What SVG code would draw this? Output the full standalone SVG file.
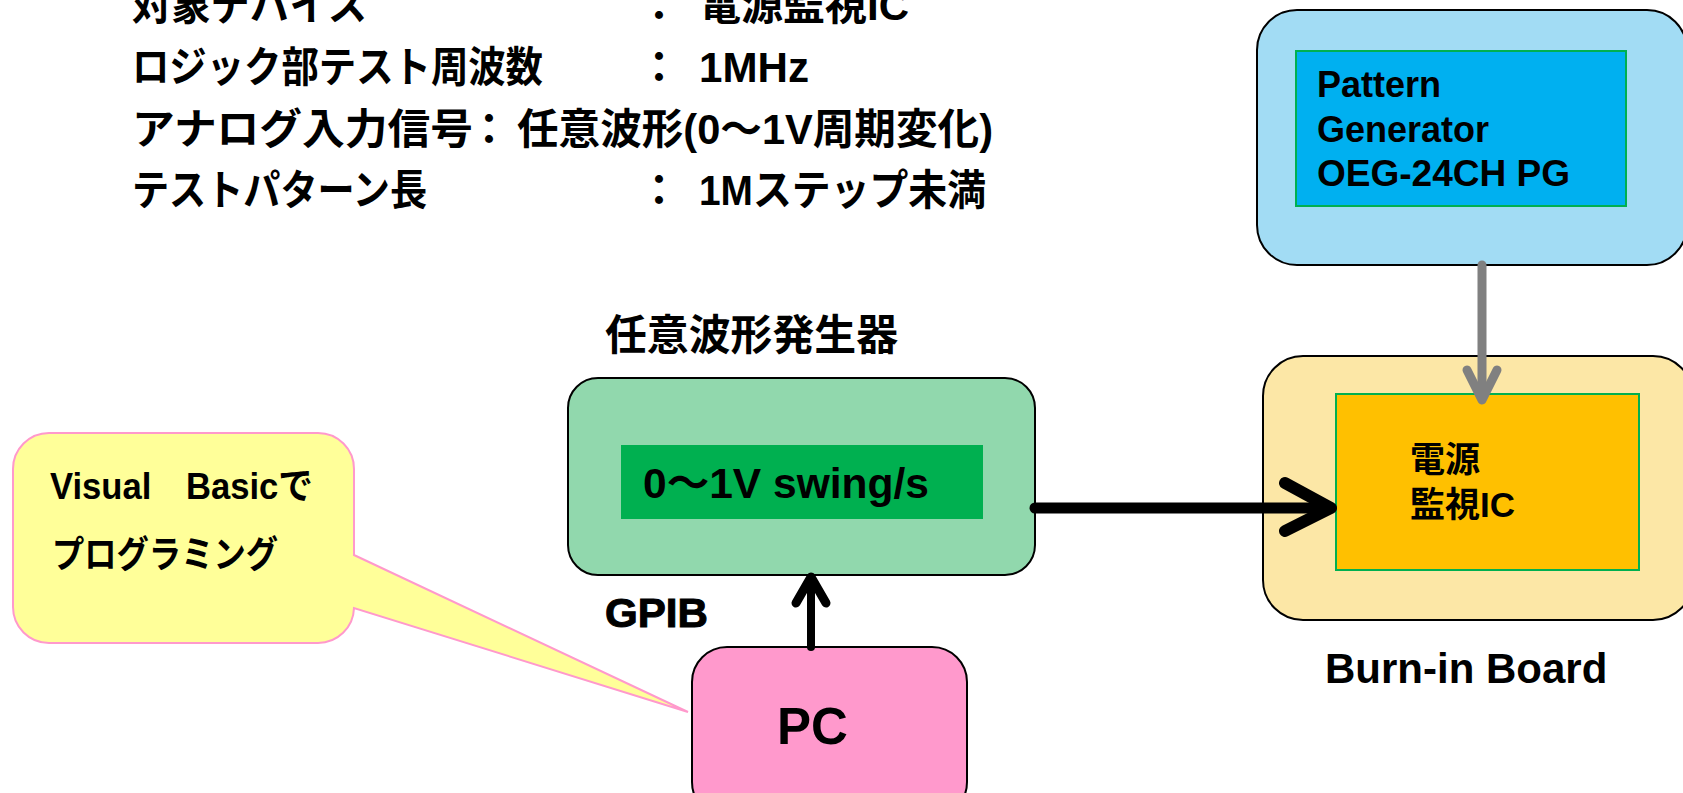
<svg xmlns="http://www.w3.org/2000/svg" width="1683" height="793" viewBox="0 0 1683 793">
<style>
text{font-family:"Liberation Sans","Noto Sans CJK JP",sans-serif;font-weight:bold;fill:#000}
.spec{font-size:42px}
.box{stroke:#000;stroke-width:2}
.inner{stroke:#00B050;stroke-width:2}
.conn{fill:none;stroke-linecap:round;stroke-linejoin:round}
</style>
<rect width="1683" height="793" fill="#fff"/>
<g id="spec">
<text class="spec" x="132" y="20" textLength="235" lengthAdjust="spacingAndGlyphs">対象デバイス</text>
<text class="spec" x="659" y="20" text-anchor="middle">：</text>
<text class="spec" x="699" y="20" textLength="210" lengthAdjust="spacingAndGlyphs">電源監視IC</text>
<text class="spec" x="132" y="82" textLength="411" lengthAdjust="spacingAndGlyphs">ロジック部テスト周波数</text>
<text class="spec" x="659" y="82" text-anchor="middle">：</text>
<text class="spec" x="699" y="82" textLength="110" lengthAdjust="spacingAndGlyphs">1MHz</text>
<text class="spec" x="132" y="144" textLength="341" lengthAdjust="spacingAndGlyphs">アナログ入力信号</text>
<text class="spec" x="489" y="144" text-anchor="middle">：</text>
<text class="spec" x="517" y="144" textLength="476" lengthAdjust="spacingAndGlyphs">任意波形(0～1V周期変化)</text>
<text class="spec" x="132" y="205" textLength="295" lengthAdjust="spacingAndGlyphs">テストパターン長</text>
<text class="spec" x="659" y="205" text-anchor="middle">：</text>
<text class="spec" x="699" y="205" textLength="287" lengthAdjust="spacingAndGlyphs">1Mステップ未満</text>
</g>
<g id="pattern-generator">
<rect class="box" x="1257" y="10" width="430" height="255" rx="40" fill="#A2DCF4"/>
<rect class="inner" x="1296" y="51" width="330" height="155" fill="#00B0F0"/>
<text x="1317" y="97" font-size="36">Pattern</text>
<text x="1317" y="142" font-size="36">Generator</text>
<text x="1317" y="186" font-size="36" textLength="253" lengthAdjust="spacingAndGlyphs">OEG-24CH PG</text>
</g>
<g id="burn-in-board">
<rect class="box" x="1263" y="356" width="430" height="264" rx="40" fill="#FCE7A6"/>
<rect class="inner" x="1336" y="394" width="303" height="176" fill="#FFC000"/>
<text x="1410" y="472" font-size="35">電源</text>
<text x="1410" y="517" font-size="35">監視IC</text>
<text x="1325" y="683" font-size="42">Burn-in Board</text>
</g>
<g id="waveform-generator">
<text x="605" y="350" font-size="42" textLength="293" lengthAdjust="spacingAndGlyphs">任意波形発生器</text>
<rect class="box" x="568" y="378" width="467" height="197" rx="30" fill="#91D8AD"/>
<rect x="621" y="445" width="362" height="74" fill="#00B050"/>
<text x="643" y="498" font-size="42" textLength="286" lengthAdjust="spacingAndGlyphs">0～1V swing/s</text>
</g>
<g id="pc">
<rect class="box" x="692" y="647" width="275" height="170" rx="35" fill="#FF99CC"/>
<text x="777" y="744" font-size="51">PC</text>
</g>
<g id="callout">
<path d="M49 433 H318 A36 36 0 0 1 354 469 V555 L688 712 L354 608 A36 36 0 0 1 318 643 H49 A36 36 0 0 1 13 607 V469 A36 36 0 0 1 49 433 Z" fill="#FFFF99" stroke="#FF99CC" stroke-width="2" stroke-linejoin="miter"/>
<text x="50" y="499" font-size="37" textLength="263" lengthAdjust="spacingAndGlyphs">Visual　Basicで</text>
<text x="52" y="568" font-size="37" textLength="226" lengthAdjust="spacingAndGlyphs">プログラミング</text>
</g>
<g id="connectors">
<g stroke="#808080" stroke-width="9" class="conn">
<line x1="1482" y1="265" x2="1482" y2="398"/>
<polyline points="1467,370 1482,400 1497,370"/>
</g>
<g stroke="#000" class="conn">
<line x1="1035" y1="508" x2="1328" y2="508" stroke-width="11"/>
<polyline points="1285,483 1331,508 1285,531" stroke-width="12"/>
<line x1="811" y1="647" x2="811" y2="580" stroke-width="8"/>
<polyline points="796,603 811,577 826,603" stroke-width="9"/>
</g>
<text x="605" y="627" font-size="40" font-weight="normal" stroke="#000" stroke-width="1" textLength="103" lengthAdjust="spacingAndGlyphs">GPIB</text>
</g>
</svg>
